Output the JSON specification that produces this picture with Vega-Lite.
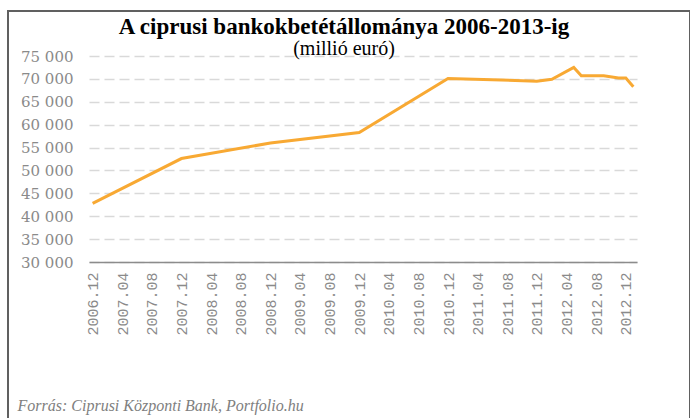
{
  "$schema": "https://vega.github.io/schema/vega-lite/v6.json",
  "width": 682,
  "height": 420,
  "autosize": {"type": "none"},
  "padding": {"left": 8, "top": 11, "right": 0, "bottom": 0},
  "background": "white",
  "config": {
    "locale": {"number": {"decimal": ",", "thousands": " ", "grouping": [3], "currency": ["", ""]}},
    "view": {"stroke": "#606060", "strokeWidth": 2}
  },
  "title": {
    "text": "A ciprusi bankokbetétállománya 2006-2013-ig",
    "subtitle": "(millió euró)",
    "anchor": "middle",
    "frame": "group",
    "dx": -5,
    "font": "Liberation Serif",
    "fontSize": 23,
    "fontWeight": "bold",
    "color": "#000000",
    "subtitleFont": "Liberation Serif",
    "subtitleFontSize": 20,
    "subtitleColor": "#000000",
    "subtitlePadding": 0,
    "offset": -48
  },
  "data": {
    "values": [
      {"date": "2006-12-01", "value": 42800},
      {"date": "2007-12-01", "value": 52600},
      {"date": "2008-12-01", "value": 56000},
      {"date": "2009-12-01", "value": 58300},
      {"date": "2010-12-01", "value": 70100},
      {"date": "2011-12-01", "value": 69500},
      {"date": "2012-02-01", "value": 69900},
      {"date": "2012-05-01", "value": 72500},
      {"date": "2012-06-01", "value": 70700},
      {"date": "2012-09-01", "value": 70700},
      {"date": "2012-11-01", "value": 70200},
      {"date": "2012-12-01", "value": 70200},
      {"date": "2013-01-01", "value": 68300}
    ]
  },
  "mark": {"type": "line", "color": "#F8A933", "strokeWidth": 3},
  "encoding": {
    "x": {
      "field": "date",
      "type": "temporal",
      "scale": {
        "type": "utc",
        "domain": [
          {"year": 2006, "month": 11, "date": 16, "utc": true},
          {"year": 2013, "month": 1, "date": 16, "utc": true}
        ],
        "range": [81, 629]
      },
      "axis": {
        "values": [
          {"year": 2006, "month": 12, "date": 1, "utc": true},
          {"year": 2007, "month": 4, "date": 1, "utc": true},
          {"year": 2007, "month": 8, "date": 1, "utc": true},
          {"year": 2007, "month": 12, "date": 1, "utc": true},
          {"year": 2008, "month": 4, "date": 1, "utc": true},
          {"year": 2008, "month": 8, "date": 1, "utc": true},
          {"year": 2008, "month": 12, "date": 1, "utc": true},
          {"year": 2009, "month": 4, "date": 1, "utc": true},
          {"year": 2009, "month": 8, "date": 1, "utc": true},
          {"year": 2009, "month": 12, "date": 1, "utc": true},
          {"year": 2010, "month": 4, "date": 1, "utc": true},
          {"year": 2010, "month": 8, "date": 1, "utc": true},
          {"year": 2010, "month": 12, "date": 1, "utc": true},
          {"year": 2011, "month": 4, "date": 1, "utc": true},
          {"year": 2011, "month": 8, "date": 1, "utc": true},
          {"year": 2011, "month": 12, "date": 1, "utc": true},
          {"year": 2012, "month": 4, "date": 1, "utc": true},
          {"year": 2012, "month": 8, "date": 1, "utc": true},
          {"year": 2012, "month": 12, "date": 1, "utc": true}
        ],
        "format": "%Y.%m",
        "labelAngle": 270,
        "labelFont": "Liberation Mono",
        "labelFontSize": 15,
        "labelColor": "#8a8a8a",
        "labelPadding": 10,
        "labelOverlap": false,
        "labelFlush": false,
        "labelBound": false,
        "ticks": false,
        "tickSize": 0,
        "grid": false,
        "domainColor": "#8c8c8c",
        "domainWidth": 1.5,
        "offset": -169,
        "title": "Forrás: Ciprusi Központi Bank, Portfolio.hu",
        "titleFont": "Liberation Serif",
        "titleFontStyle": "italic",
        "titleFontWeight": "normal",
        "titleFontSize": 16,
        "titleColor": "#808080",
        "titleAnchor": "start",
        "titleAlign": "left",
        "titleBaseline": "alphabetic",
        "titleAngle": 0,
        "titleX": 9,
        "titleY": 148
      }
    },
    "y": {
      "field": "value",
      "type": "quantitative",
      "scale": {"domain": [30000, 75000], "nice": false, "zero": false, "range": [251, 45]},
      "axis": {
        "values": [30000, 35000, 40000, 45000, 50000, 55000, 60000, 65000, 70000, 75000],
        "format": ",d",
        "grid": true,
        "gridDash": [10, 5],
        "gridColor": "#d9d9d9",
        "gridWidth": 1.5,
        "domain": false,
        "ticks": false,
        "tickSize": 0,
        "labelPadding": 16,
        "labelFont": "DejaVu Serif",
        "labelFontSize": 15,
        "labelColor": "#8a8a8a",
        "offset": -81,
        "title": null
      }
    }
  }
}
